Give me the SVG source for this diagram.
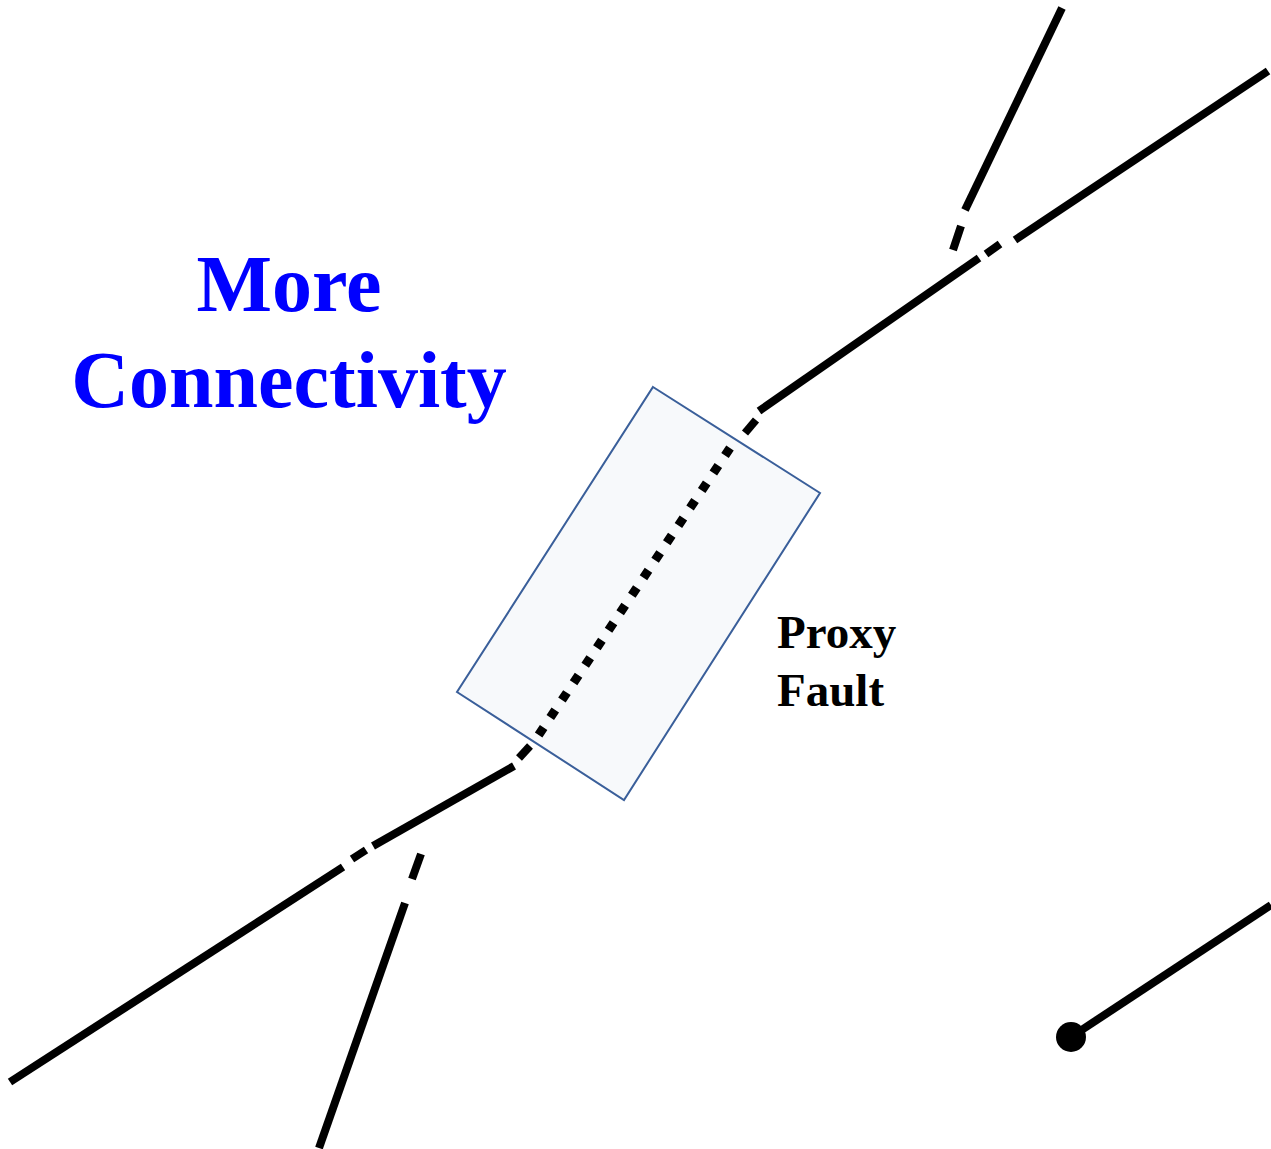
<svg xmlns="http://www.w3.org/2000/svg" width="1271" height="1149" viewBox="0 0 1271 1149">
<style>
.fault{fill:none;stroke:#000;stroke-width:8;stroke-linecap:butt;stroke-linejoin:miter}
.dots{fill:none;stroke:#000;stroke-width:9;stroke-dasharray:9 12}
.title{font-family:"Liberation Serif","Times New Roman",serif;font-weight:bold;fill:#0000ff;font-size:80px;text-anchor:middle}
.label{font-family:"Liberation Serif","Times New Roman",serif;font-weight:bold;fill:#000;font-size:47px}
</style>
<rect width="1271" height="1149" fill="#fff"/>
<g id="proxy-zone">
<polygon points="653,387 820,493 624,800 457,692" fill="#f7f9fb" stroke="#3a5f9a" stroke-width="2"/>
</g>
<g id="connectors">
<path class="fault" d="M1268,71 L1015,240"/>
<path class="fault" d="M1000,244 L986,254"/>
<path class="fault" d="M979,258 L759,411"/>
<path class="fault" d="M756,420 L745,433"/>
<path class="dots" d="M730,448 L536,739"/>
<path class="fault" d="M530,746 L519,758"/>
<path class="fault" d="M514,766 L373,846"/>
<path class="fault" d="M366,850 L352,859"/>
<path class="fault" d="M343,867 L10,1082"/>
<path class="fault" d="M1062,8 L965,210"/>
<path class="fault" d="M961,226 L953,250"/>
<path class="fault" d="M421,854 L412,879"/>
<path class="fault" d="M405,903 L319,1148"/>
<path class="fault" d="M1271,905 L1071,1037"/>
<circle cx="1071" cy="1037" r="15" fill="#000"/>
</g>
<g id="title">
<text class="title" x="289" y="311">More</text>
<text class="title" x="289" y="407">Connectivity</text>
</g>
<g id="label">
<text class="label" x="777" y="648">Proxy</text>
<text class="label" x="777" y="706">Fault</text>
</g>
</svg>
